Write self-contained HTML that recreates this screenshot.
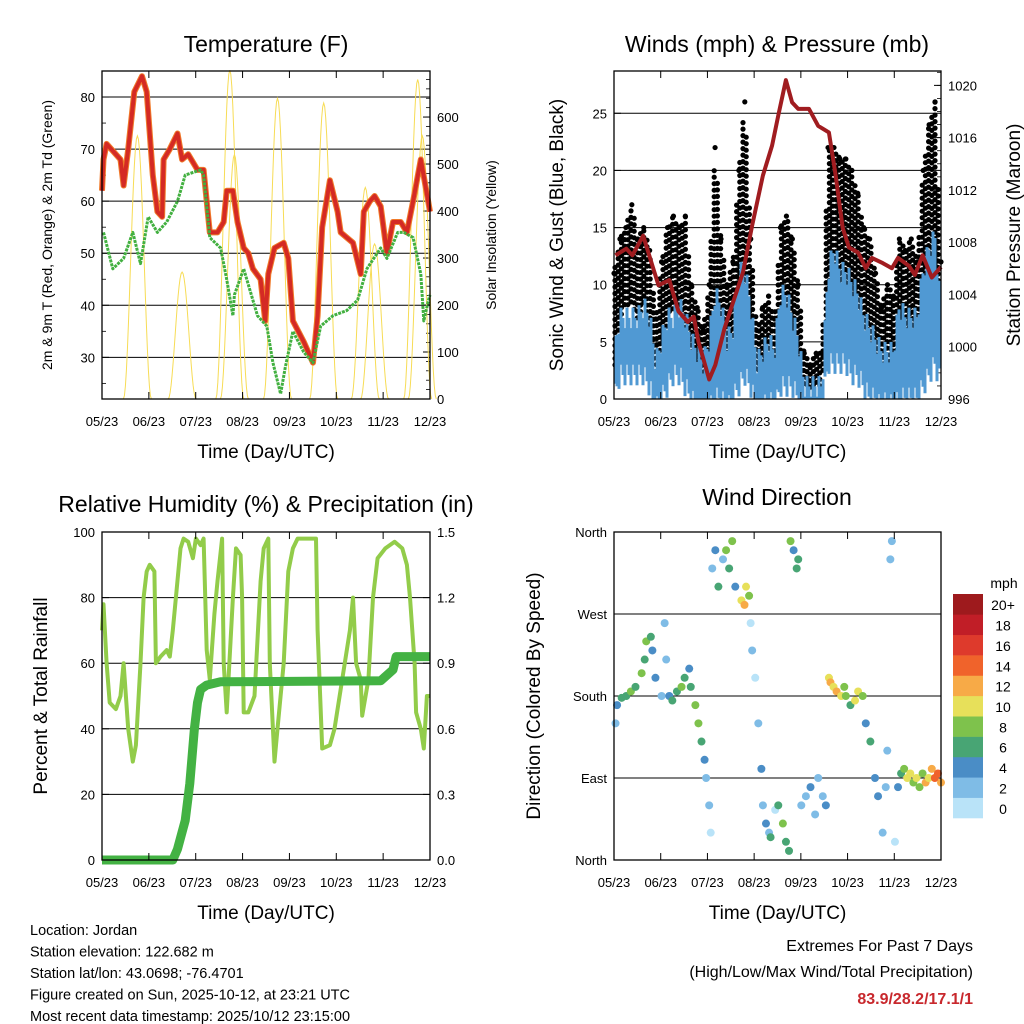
<!DOCTYPE html>
<html><head><meta charset="utf-8"><style>
html,body{margin:0;padding:0;background:#fff;}
svg{display:block;font-family:"Liberation Sans",Arial,sans-serif;}
</style></head><body>
<svg id="s" width="1024" height="1024" viewBox="0 0 1024 1024" xmlns="http://www.w3.org/2000/svg"></svg>
<script>
// ---------- DATA ----------
const monthLabels = ["05/23","06/23","07/23","08/23","09/23","10/23","11/23","12/23"];
// Temperature panel
const tDays  = [0,1,3,12,14,17,21,26,29,33,36,39,40,44,49,52,56,62,66,70,75,79,81,85,88,92,95,98,103,106,108,112,118,121,124,131,137,140,143,148,153,155,163,168,170,174,177,181,185,189,194,198,202,207,210,213];
const tempF  = [62,68,71,68,63,70,81,84,81,65,58,57,68,70,73,68,69,66,66,54,54,56,62,62,56,51,50,47,45,37,46,51,52,49,37,33,29,38,55,64,58,54,52,46,58,60,61,59,50,56,56,54,60,68,63,58];
const tdDays = [1,7,14,20,25,30,36,42,49,54,64,66,70,77,81,85,86,92,96,101,107,111,116,119,124,131,137,142,150,159,166,172,181,185,192,196,202,207,209,212,213];
const dewF   = [54,47,49,54,48,57,54,56,60,65,66,65,53,51,45,38,42,47,43,38,36,29,23,28,35,31,29,36,38,39,41,47,51,49,54,54,53,46,37,41,42];
const solarDays  = [23,52,83,86,114,144,171,177,205,208];
const solarPeaks = [560,270,700,520,640,630,450,330,680,560];
// Wind panel
const gustHi = [11,14,15,17,14,15,13,7,12,15,16,15,16,10,8,6,10,22,14,10,12,20,26,14,6,8,9,7,15,16,14,10,4,3,4,4,22,22,21,21,20,18,15,14,11,8,10,9,14,13,14,12,20,24,26,12];
const gustLo = [2,7,8,8,7,8,6,2,4,7,8,8,6,4,2,1,2,5,4,2,2,8,10,6,2,2,3,2,6,6,5,3,1,1,1,1,8,9,9,9,8,7,5,4,2,1,3,2,4,3,4,3,6,8,10,4];
const windHi = [5,8,8,8,8,9,8,4,6,8,8,9,8,6,5,4,6,10,9,6,7,12,12,9,4,5,6,5,10,10,8,6,2,2,2,2,12,14,12,12,11,10,8,7,6,5,5,5,9,8,8,8,12,14,15,8];
const windLo = [1,3,3,3,3,3,2,0,1,2,3,3,2,1,0,0,0,1,1,0,1,2,3,2,0,0,1,0,2,2,2,1,0,0,0,0,4,4,4,4,3,3,2,1,1,0,1,0,1,1,1,1,2,3,4,2];
const presDays = [1,8,12,19,25,29,36,42,48,52,55,62,66,72,77,84,90,97,103,107,112,116,120,127,133,140,144,149,153,159,164,168,175,181,185,192,196,201,207,213];
const presMb   = [1007,1007.5,1007,1008.5,1006.2,1004.7,1005.1,1002.7,1001.9,1002.3,1000.4,997.5,998.6,1001.4,1003.2,1005.7,1009.3,1013.1,1015.4,1017.7,1020.4,1018.7,1018.2,1018.2,1016.9,1016.4,1013.4,1009.1,1007.6,1007.2,1006,1006.8,1006.4,1006,1006.8,1006.2,1005.5,1007,1005.3,1006.1];
// RH / precip panel
const rhDays = [0,1,3,5,9,12,14,17,20,22,25,27,29,31,34,35,38,42,44,46,48,51,53,56,59,61,64,66,68,70,73,75,78,79,81,85,87,90,91,92,95,99,103,105,108,109,112,114,118,121,124,127,139,140,143,148,151,156,161,163,165,168,169,173,176,179,184,190,195,198,200,203,204,207,209,211,213];
const rhPct  = [70,78,60,48,46,50,60,40,30,35,60,80,88,90,88,60,62,64,62,70,80,95,98,97,92,98,96,98,64,55,75,85,98,60,45,80,95,93,80,45,45,50,85,95,98,60,30,40,60,88,95,98,98,70,34,35,40,55,70,80,60,55,44,55,80,92,95,97,95,90,80,60,45,40,34,50,50];
const prDays = [0,46,49,54,57,60,62,64,68,77,181,189,191,213];
const prIn   = [0,0,0.05,0.18,0.35,0.6,0.72,0.78,0.8,0.815,0.82,0.87,0.93,0.93];
// Wind direction panel
const dirDays = [1,2,5,8,11,14,18,20,21,24,25,27,31,33,34,36,38,41,44,46,49,50,53,55,57,59,60,62,63,64,66,68,71,73,75,77,79,83,85,86,88,89,90,92,94,96,97,99,101,102,105,107,110,112,114,115,117,119,120,122,125,128,131,133,136,138,140,141,143,145,148,150,151,154,157,159,162,164,167,170,172,175,177,178,180,181,183,185,187,189,191,193,195,197,199,201,203,205,207,209,211,213];
const dirDeg  = [150,170,178,180,185,190,205,220,240,245,230,200,180,260,220,180,175,185,190,200,210,190,170,150,130,110,90,60,30,320,340,300,330,340,320,350,300,285,280,300,290,260,230,200,150,100,60,40,30,25,55,60,40,20,10,350,340,320,330,60,70,80,50,90,70,60,200,195,190,185,180,190,180,170,175,185,180,150,130,90,70,30,80,120,330,350,20,80,95,100,90,95,85,90,80,95,85,90,100,90,95,85];
const dirSpd  = [3,5,6,7,8,6,8,7,8,6,5,4,3,3,2,5,6,7,8,6,5,7,8,8,6,4,3,2,1,2,5,6,3,8,7,9,5,10,12,11,8,1,2,1,2,4,2,4,3,6,1,7,8,7,6,8,5,7,6,2,3,4,2,3,2,4,10,12,11,13,10,9,8,7,10,11,8,4,6,5,4,2,3,3,2,3,1,4,6,8,10,11,9,10,8,9,12,10,13,14,15,12];
const spdColors = ["#b9e3f8","#7fbce6","#4a8dc6","#48a574","#7ec24c","#e7e05a","#f7aa47","#f0632b","#de3a2c","#c11e27","#9e1a1d"];
const spdLabels = ["0","2","4","6","8","10","12","14","16","18","20+"];

// ---------- HELPERS ----------
const NS="http://www.w3.org/2000/svg", svg=document.getElementById('s');
function mk(tag, attrs, parent){const e=document.createElementNS(NS,tag);for(const k in attrs)e.setAttribute(k,attrs[k]);(parent||svg).appendChild(e);return e;}
function txt(x,y,s,size,anchor,parent,extra){const t=mk('text',Object.assign({x:x,y:y,'font-size':size,'text-anchor':anchor||'middle',fill:'#000'},extra||{}),parent);t.textContent=s;return t;}
function lin(d0,d1,p0,p1){return v=>p0+(v-d0)/(d1-d0)*(p1-p0);}
const DAYS=213;

function panel(L,T,W,H,name){
  const g=mk('g',{});
  
  
  return {g:g,L:L,T:T,W:W,H:H,x:lin(0,DAYS,L,L+W)};
}
function frame(p,name){
  const r=mk('rect',{x:p.L,y:p.T,width:p.W,height:p.H,fill:'none',stroke:'#000','stroke-width':1.3},p.g);
  
  
  monthLabels.forEach((m,i)=>{
    const x=p.L+i*p.W/7;
    mk('line',{x1:x,y1:p.T+p.H,x2:x,y2:p.T+p.H-7,stroke:'#000'},p.g);
    mk('line',{x1:x,y1:p.T,x2:x,y2:p.T+7,stroke:'#000'},p.g);
    const t=txt(x,p.T+p.H+27,m,13,'middle',p.g);
    
    
  });
  const xt=txt(p.L+p.W/2,p.T+p.H+59,'Time (Day/UTC)',19,'middle',p.g);
  
  
}
function poly(pts,attrs,parent,name){
  const e=mk('polyline',Object.assign({points:pts.map(p=>p[0].toFixed(1)+','+p[1].toFixed(1)).join(' '),fill:'none'},attrs),parent);
  
  
  return e;
}
function yTicks(p,y,vals,fmt,side,minor,grid){
  vals.forEach(v=>{
    const yy=y(v);
    if(grid && yy>p.T+1 && yy<p.T+p.H-1) mk('line',{x1:p.L,y1:yy,x2:p.L+p.W,y2:yy,stroke:'#000','stroke-width':1},p.g);
    const x0=side==='l'?p.L:p.L+p.W, dx=side==='l'?7:-7;
    mk('line',{x1:x0,y1:yy,x2:x0+dx,y2:yy,stroke:'#000'},p.g);
    const t=txt(side==='l'?p.L-7:p.L+p.W+7,yy+5,fmt(v),13,side==='l'?'end':'start',p.g);
    
    
  });
  (minor||[]).forEach(v=>{const yy=y(v);const x0=side==='l'?p.L:p.L+p.W, dx=side==='l'?4:-4;
    mk('line',{x1:x0,y1:yy,x2:x0+dx,y2:yy,stroke:'#000','stroke-width':0.8},p.g);});
}
function vtitle(x,y,s,size,name,parent){
  const t=txt(x,y,s,size,'middle',parent,{transform:'rotate(-90 '+x+' '+y+')'});
  
  
}
function title(x,y,s,name){const t=txt(x,y,s,23,'middle');
  
  }

// ---------- TEMPERATURE ----------
(function(){
  const p=panel(102,71,328,328,'temperature-panel');
  const yT=lin(22,85,399,71), yS=lin(0,698,399,71);
  yTicks(p,yT,[30,40,50,60,70,80],v=>v,'l',[25,35,45,55,65,75,85],true);
  const mn=[];for(let v=20;v<=680;v+=20)mn.push(v);
  yTicks(p,yS,[0,100,200,300,400,500,600],v=>v,'r',mn,false);
  solarDays.forEach((d,i)=>{
    const pts=[];const c=p.x(d);
    for(let k=-14;k<=14;k++){const f=Math.cos(k/14*Math.PI/2);pts.push([c+k,yS(solarPeaks[i]*f*f)]);}
    poly(pts,{stroke:'#f7dc55','stroke-width':1},p.g,'solar-insolation-line');
  });
  const tp=tDays.map((d,i)=>[p.x(d),yT(tempF[i])]);
  poly(tp,{stroke:'#f07a2a','stroke-width':6,'stroke-linejoin':'round'},p.g,'temp-9m-line');
  poly(tp,{stroke:'#d42a24','stroke-width':4,'stroke-linejoin':'round'},p.g,'temp-2m-line');
  poly(tdDays.map((d,i)=>[p.x(d),yT(dewF[i])]),{stroke:'#42b040','stroke-width':3,'stroke-dasharray':'3 1','stroke-linejoin':'round'},p.g,'dewpoint-line');
  frame(p,'temperature-plot-frame');
  vtitle(52,235,'2m & 9m T (Red, Orange) & 2m Td (Green)',14,'temperature-y-title',p.g);
  vtitle(496,235,'Solar Insolation (Yellow)',14,'solar-y-title',p.g);
})();
title(266,52,'Temperature (F)','temperature-title');

// ---------- WINDS ----------
(function(){
  const p=panel(614,71,327,328,'winds-panel');
  const yW=lin(0,28.7,399,71), yP=lin(996,1021.1,399,71);
  yTicks(p,yW,[0,5,10,15,20,25],v=>v,'l',[],true);
  const mn=[];for(let v=997;v<=1021;v++)mn.push(v);
  yTicks(p,yP,[996,1000,1004,1008,1012,1016,1020],v=>v,'r',mn,false);
  const step=DAYS/(gustHi.length-1);
  function interp(arr,d){const f=d/step,i=Math.min(arr.length-2,Math.floor(f)),t=f-i;return arr[i]*(1-t)+arr[i+1]*t;}
  // gust dots: columns of dots spanning gustLo..gustHi
  const gg=mk('g',{fill:'#000'},p.g);
  
  
  let col=0;
  for(let x=p.L+1;x<=p.L+p.W-1;x+=3.2,col++){
    const d=(x-p.L)/p.W*DAYS;
    const hi=yW(interp(gustHi,d)), lo=yW(interp(gustLo,d));
    for(let y=hi+(col%2)*3;y<=lo;y+=6.5){
      mk('circle',{cx:x.toFixed(1),cy:y.toFixed(1),r:2.6},gg);
    }
  }
  gustHi.forEach((v,i)=>{const c=mk('circle',{cx:p.x(i*step),cy:yW(v),r:2.6,fill:'#000'},p.g);
    
    });
  // wind band as jagged vertical strokes
  const wg=mk('g',{stroke:'#5099d3','stroke-width':3},p.g);
  
  
  col=0;
  for(let x=p.L+1;x<=p.L+p.W-1;x+=2,col++){
    const d=(x-p.L)/p.W*DAYS;
    const j=(col%3)*0.9;
    const hi=yW(interp(windHi,d)-j), lo=yW(Math.max(0,interp(windLo,d)-j));
    mk('line',{x1:x.toFixed(1),y1:hi.toFixed(1),x2:x.toFixed(1),y2:lo.toFixed(1)},wg);
  }
  poly(presDays.map((d,i)=>[p.x(d),yP(presMb[i])]),{stroke:'#a01c20','stroke-width':4,'stroke-linejoin':'round'},p.g,'pressure-line');
  frame(p,'winds-plot-frame');
  vtitle(563,235,'Sonic Wind & Gust (Blue, Black)',19,'wind-y-title',p.g);
  vtitle(1020,235,'Station Pressure (Maroon)',19,'pressure-y-title',p.g);
})();
title(777,52,'Winds (mph) & Pressure (mb)','winds-title');

// ---------- RH / PRECIP ----------
(function(){
  const p=panel(102,532,328,328,'humidity-panel');
  const yR=lin(0,100,860,532), yPr=lin(0,1.5,860,532);
  yTicks(p,yR,[0,20,40,60,80,100],v=>v,'l',[],true);
  yTicks(p,yPr,[0,0.3,0.6,0.9,1.2,1.5],v=>v.toFixed(1),'r',[],false);
  poly(rhDays.map((d,i)=>[p.x(d),yR(rhPct[i])]),{stroke:'#92cc4a','stroke-width':4,'stroke-linejoin':'round'},p.g,'relative-humidity-line');
  poly(prDays.map((d,i)=>[p.x(d),yPr(prIn[i])]),{stroke:'#43b243','stroke-width':9,'stroke-linejoin':'round'},p.g,'precipitation-line');
  frame(p,'humidity-plot-frame');
  vtitle(47,696,'Percent & Total Rainfall',19,'humidity-y-title',p.g);
})();
title(266,512,'Relative Humidity (%) & Precipitation (in)','humidity-title');

// ---------- WIND DIRECTION ----------
(function(){
  const p=panel(614,532,327,328,'wind-direction-panel');
  const yD=lin(0,360,860,532);
  const names=['North','East','South','West','North'];
  yTicks(p,yD,[0,90,180,270,360],v=>names[v/90],'l',[],true);
  dirDays.forEach((d,i)=>{
    const b=Math.min(10,Math.floor(dirSpd[i]/2));
    const c=mk('circle',{cx:p.x(d),cy:yD(dirDeg[i]),r:4,fill:spdColors[b]},p.g);
    
    
  });
  frame(p,'wind-direction-plot-frame');
  vtitle(540,696,'Direction (Colored By Speed)',19,'direction-y-title',p.g);
  const lg=mk('g',{});
  
  
  const bh=224/11;
  spdColors.forEach((c,i)=>{
    const y=818-(i+1)*bh;
    const r=mk('rect',{x:953,y:y,width:30,height:bh+0.3,fill:c},lg);
    
    
    const t=txt(1003,y+bh/2+6,spdLabels[i],14,'middle',lg);
    
    
  });
  const u=txt(1004,588,'mph',14,'middle',lg);
  
  
})();
title(777,505,'Wind Direction','wind-direction-title');

// ---------- INFO TEXT ----------
const info=["Location: Jordan","Station elevation: 122.682 m","Station lat/lon: 43.0698; -76.4701","Figure created on Sun, 2025-10-12, at 23:21 UTC","Most recent data timestamp: 2025/10/12 23:15:00"];
info.forEach((s,i)=>{const t=txt(30,935+i*21.5,s,14.5,'start');
  
  });
const e1=txt(973,951,'Extremes For Past 7 Days',16,'end');


const e2=txt(973,977,'(High/Low/Max Wind/Total Precipitation)',16,'end');


const e3=txt(973,1004,'83.9/28.2/17.1/1',16,'end',null,{fill:'#c8282d','font-weight':'bold'});


</script>
</body></html>
